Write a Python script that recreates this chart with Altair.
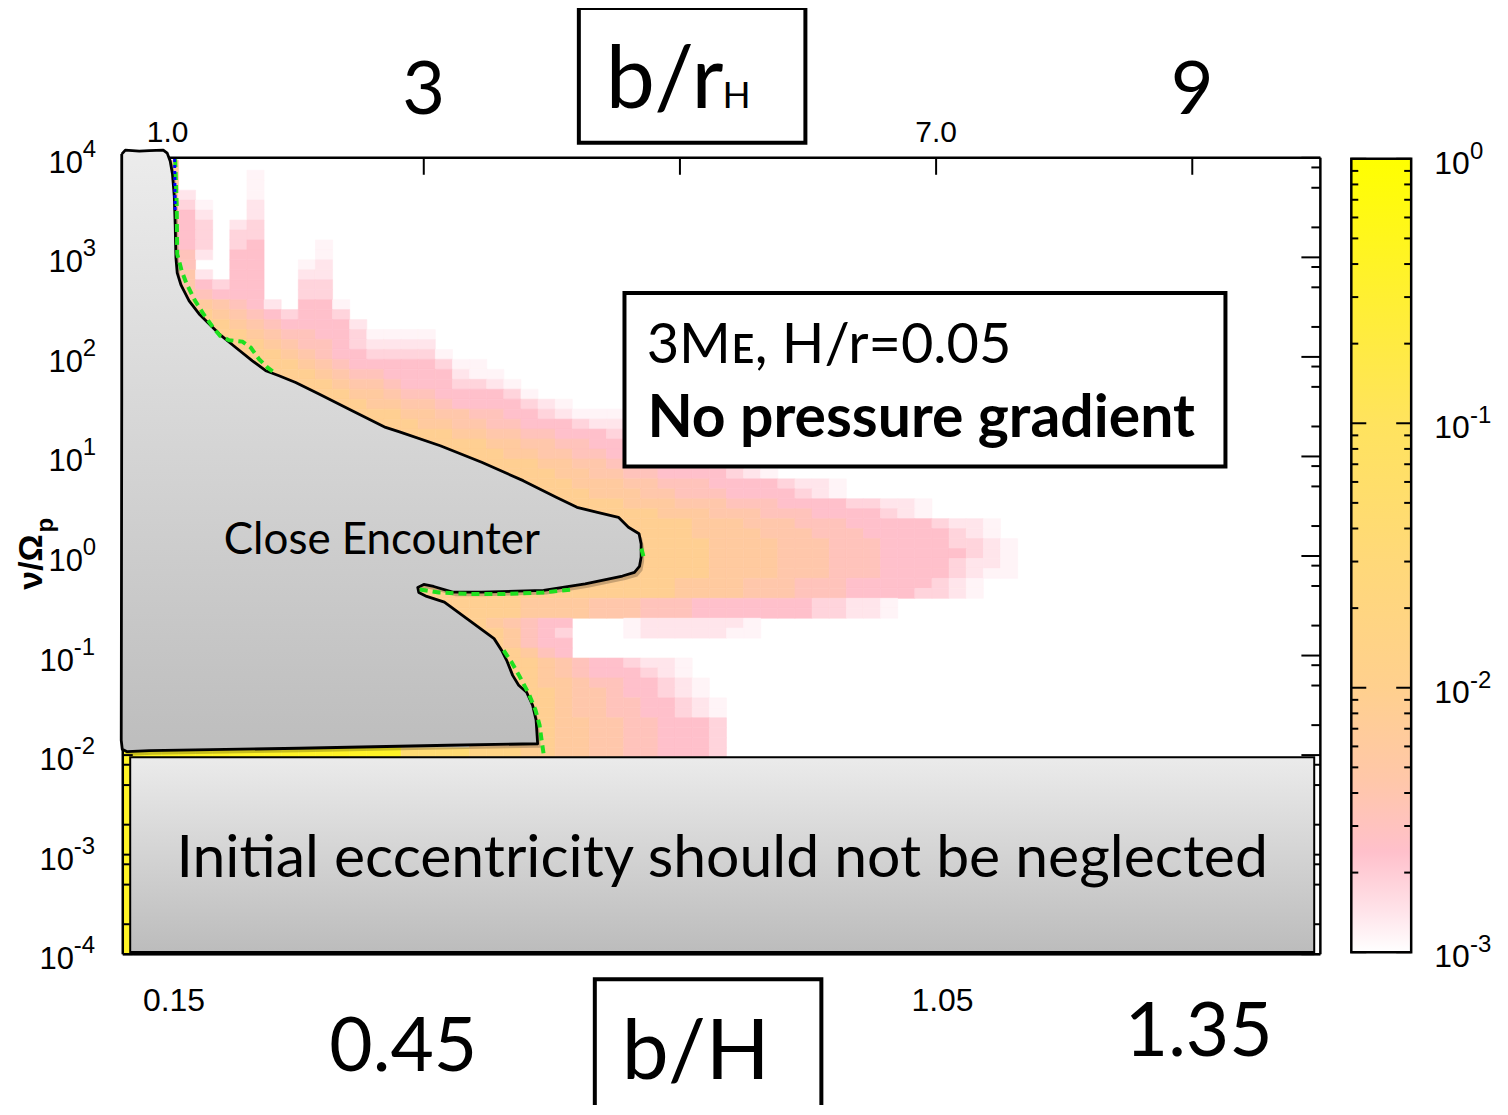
import altair as alt
import pandas as pd

# ---------------- data ----------------
# heat-map grid: columns in b/r_H, rows of 0.1 decade in nu/Omega_p
COL_LEFT0, COL_STEP = 0.951, 0.1337
ROW_TOP0, ROW_STEP = 3.975, 0.1

level_codes = "123456789ab"
level_values = [1.15e-3, 1.4e-3, 1.8e-3, 2.4e-3, 3.2e-3, 4.3e-3, 6e-3, 9e-3, 1.6e-2, 4e-2, 4e-1]

# one entry per row, from the top (nu ~ 10^4) down to nu ~ 10^-2 : (first column, level codes)
heat_rows = [
    (0, "7"),
    (0, "7....1"),
    (0, "7....1"),
    (0, "72...1"),
    (0, "731..2"),
    (0, "742..2"),
    (0, "743.23"),
    (0, "743.33"),
    (0, "743.34...1"),
    (0, "752.44...1"),
    (0, "75..44..12"),
    (0, "762.44..22"),
    (0, "764344..33"),
    (0, "865444..33"),
    (0, "8876542.441"),
    (0, "88876543443"),
    (0, "888876544442"),
    (0, "8888876554431111"),
    (0, "8888887655432222"),
    (2, "888887654433331"),
    (3, "8888876544444311"),
    (4, "8888876554444211"),
    (6, "888876654443321"),
    (7, "888877655444431"),
    (8, "8888776654444321"),
    (9, "888887766554432111"),
    (10, "88888776655444322"),
    (12, "8888877665544432"),
    (14, "88888776655444"),
    (15, "8888877665544"),
    (16, "888888776655444432"),
    (17, "8888887766554444321"),
    (18, "8888887776655544443221"),
    (19, "888888777665554444321"),
    (20, "8888888777666555444433221"),
    (22, "88888887776665554444321"),
    (23, "88888888777666555444443221"),
    (24, "8888888777766655544444321"),
    (24, "88888888777766655544443321"),
    (24, "88888888777766655544444321"),
    (24, "88888888777766655544443221"),
    (23, "888888888777766655544443211"),
    (13, "88888888888888888777766655544444321"),
    (13, "88888888888888888777766655544443321"),
    (13, "888888887777666555444444433221"),
    (14, "88888887777666555444444433221"),
    (15, "888876544...12222221"),
    (16, "88887543...12222211"),
    (16, "88887544"),
    (17, "8888754"),
    (17, "88888765443221"),
    (17, "88888765444321"),
    (17, "888887765544321"),
    (18, "88888766544321"),
    (18, "888887665544321"),
    (18, "888887665544321"),
    (18, "888887766554443"),
    (18, "888887766554443"),
    (18, "888887766554443"),
    (-3, "bbbbbbbbbbbbbbbbbaaaa999887766554443"),
]
# region below nu = 10^-2 (mostly hidden by the grey box)
low_nu_block = {"b0": 0.65, "b1": 4.6, "lg0": -4.0, "lg1": -2.025, "code": "b"}

# colour bar stops (log10 value, colour)
cbar_log = [-3.0, -2.85, -2.62, -2.35, -2.0, -1.5, -1.0, -0.5, 0.0]
cbar_colors = ["#ffffff", "#ffe4ea", "#ffc0cb", "#ffc7a9", "#ffd08e",
               "#ffd978", "#ffe35e", "#fff030", "#ffff00"]

# close-encounter region outline (b/r_H, log10 nu/Omega_p)
shape_b = [0.642, 0.670, 0.779, 0.857, 0.966, 0.997, 1.020, 1.038, 1.052, 1.059,
           1.065, 1.075, 1.104, 1.168, 1.246, 1.402, 1.532, 1.662, 1.766, 1.870,
           2.000, 2.182, 2.441, 2.702, 2.805, 3.129, 3.452, 3.776, 4.034, 4.196,
           4.356, 4.520, 4.598, 4.681, 4.697, 4.697, 4.684, 4.645, 4.551, 4.260,
           3.935, 3.452, 3.226, 3.078, 3.000, 2.953, 2.961, 3.023, 3.161, 3.355,
           3.549, 3.608, 3.647, 3.694, 3.741, 3.803, 3.850, 3.877, 3.889, 3.195,
           2.026, 0.857, 0.685, 0.646, 0.638, 0.642]
shape_lg = [4.037, 4.077, 4.067, 4.072, 4.077, 4.047, 3.967, 3.837, 3.616, 3.335,
            2.994, 2.844, 2.723, 2.563, 2.432, 2.232, 2.094, 1.961, 1.861, 1.811,
            1.743, 1.627, 1.459, 1.292, 1.249, 1.108, 0.941, 0.757, 0.590, 0.489,
            0.439, 0.389, 0.289, 0.223, 0.122, -0.012, -0.105, -0.165, -0.201, -0.279,
            -0.346, -0.363, -0.363, -0.306, -0.286, -0.316, -0.366, -0.406, -0.463, -0.647,
            -0.830, -0.948, -1.048, -1.199, -1.299, -1.369, -1.500, -1.650, -1.886, -1.901,
            -1.931, -1.956, -1.966, -1.941, -1.851, 1.560]

# green dashed boundary pieces and the blue dotted piece
green_b = [
    [1.059, 1.063, 1.071, 1.075, 1.110, 1.149, 1.215, 1.281, 1.356, 1.410, 1.480, 1.584, 1.649, 1.714, 1.779, 1.839],
    [2.969, 3.117, 3.351, 3.663, 3.935, 4.169],
    [3.624, 3.686, 3.748, 3.818, 3.873, 3.904, 3.920, 3.935],
    [4.699, 4.715],
]
green_lg = [
    [3.987, 3.837, 3.536, 3.034, 2.864, 2.733, 2.563, 2.429, 2.295, 2.212, 2.168, 2.154, 2.094, 1.978, 1.894, 1.836],
    [-0.336, -0.366, -0.381, -0.381, -0.366, -0.336],
    [-0.948, -1.068, -1.209, -1.379, -1.550, -1.700, -1.851, -1.981],
    [0.075, -0.005],
]
blue_b = [1.055, 1.059]
blue_lg = [3.987, 3.465]

# axes
top_tick_b = [1, 3, 5, 7, 9]
top_small_labels = [(1, "1.0"), (7, "7.0")]
top_big_labels = [(3, "3"), (9, "9")]
bottom_small_labels = [(1.05, "0.15"), (7.05, "1.05")]
bottom_big_labels = [(2.84, "0.45", 0), (9.05, "1.35", -15)]
y_decades = [-4, -3, -2, -1, 0, 1, 2, 3, 4]
y_minor_mult = [2, 5, 8]
cbar_decades = [-3, -2, -1, 0]
cbar_minor_mult = [2, 3, 4, 5, 6, 7, 8, 9]

# annotation boxes (b/r_H, log10 nu)
info_box = {"b0": 4.567, "b1": 9.259, "lg0": 0.898, "lg1": 2.643}
ecc_box = {"b0": 0.708, "b1": 9.952, "lg0": -3.977, "lg1": -2.021}

# ---------------- build tables ----------------
recs = []
for j, (s, codes) in enumerate(heat_rows):
    top = ROW_TOP0 - j * ROW_STEP
    for k, ch in enumerate(codes):
        if ch == ".":
            continue
        b0 = COL_LEFT0 + (s + k) * COL_STEP
        recs.append({"b0": b0, "b1": b0 + COL_STEP, "n0": 10 ** (top - ROW_STEP),
                     "n1": 10 ** top, "v": level_values[level_codes.index(ch)]})
recs.append({"b0": low_nu_block["b0"], "b1": low_nu_block["b1"], "n0": 10 ** low_nu_block["lg0"],
             "n1": 10 ** low_nu_block["lg1"], "v": level_values[level_codes.index(low_nu_block["code"])]})
heat_df = pd.DataFrame(recs)

shape_df = pd.DataFrame({"b": shape_b + [shape_b[0]],
                         "nu": [10 ** v for v in shape_lg + [shape_lg[0]]],
                         "i": list(range(len(shape_b) + 1))})
grec = []
for p, (bs, ls) in enumerate(zip(green_b, green_lg)):
    for i, (bb, ll) in enumerate(zip(bs, ls)):
        grec.append({"b": bb, "nu": 10 ** ll, "i": i, "seg": p})
green_df = pd.DataFrame(grec)
blue_df = pd.DataFrame({"b": blue_b, "nu": [10 ** v for v in blue_lg], "i": [0, 1]})

W, H = 1200, 798
xs = alt.Scale(domain=[0.65, 10.0], nice=False, zero=False)
ys = alt.Scale(type="log", domain=[1e-4, 1e4], nice=False)
cs = alt.Scale(type="log", domain=[10 ** v for v in cbar_log], range=cbar_colors, interpolate="rgb")
cbs = alt.Scale(type="log", domain=[1e-3, 1.0], range=[796, 1], nice=False)

one = pd.DataFrame({"k": [0]})
SANS = "Liberation Sans"
CAL = "Lato"


def X(f):
    return alt.X(f, scale=xs, axis=None)


def Y(f):
    return alt.Y(f, scale=ys, axis=None)


def ptext(txt, x, y, size, font=CAL, align="left", baseline="alphabetic", weight="normal", angle=0):
    return alt.Chart(one).mark_text(text=txt, fontSize=size, font=font, align=align, baseline=baseline,
                                    fontWeight=weight, angle=angle, color="black").encode(
        x=alt.value(x), y=alt.value(y))


def grad(c0, c1):
    return alt.LinearGradient(gradient="linear", x1=0, x2=0, y1=0, y2=1,
                              stops=[alt.GradientStop(color=c0, offset=0),
                                     alt.GradientStop(color=c1, offset=1)])


layers = []
# heat map
layers.append(alt.Chart(heat_df).mark_rect(clip=True, strokeWidth=0.6).encode(
    x=X("b0:Q"), x2="b1:Q", y=Y("n0:Q"), y2="n1:Q",
    color=alt.Color("v:Q", scale=cs, legend=None),
    stroke=alt.Stroke("v:Q", scale=cs, legend=None)))

# frame
layers.append(alt.Chart(one).mark_rule(color="black", strokeWidth=2.5).encode(
    x=alt.value(0), x2=alt.value(W), y=alt.value(0)))
layers.append(alt.Chart(one).mark_rule(color="black", strokeWidth=2.5).encode(
    x=alt.value(0), x2=alt.value(W), y=alt.value(H)))
layers.append(alt.Chart(one).mark_rule(color="black", strokeWidth=2.5).encode(
    x=alt.value(W), y=alt.value(0), y2=alt.value(H)))
layers.append(alt.Chart(one).mark_rule(color="black", strokeWidth=2.5).encode(
    x=alt.value(0), y=alt.value(0), y2=alt.value(H)))

# ticks
top_df = pd.DataFrame({"b": top_tick_b})
layers.append(alt.Chart(top_df).mark_rule(color="black", strokeWidth=2).encode(
    x=X("b:Q"), y=alt.value(0), y2=alt.value(17)))
maj_df = pd.DataFrame({"nu": [10.0 ** d for d in y_decades]})
min_df = pd.DataFrame({"nu": [m * 10.0 ** d for d in y_decades[:-1] for m in y_minor_mult]})
layers.append(alt.Chart(maj_df).mark_rule(color="black", strokeWidth=2).encode(
    y=Y("nu:Q"), x=alt.value(W), x2=alt.value(W - 19)))
layers.append(alt.Chart(min_df).mark_rule(color="black", strokeWidth=2).encode(
    y=Y("nu:Q"), x=alt.value(W), x2=alt.value(W - 9)))
layers.append(alt.Chart(maj_df).mark_rule(color="black", strokeWidth=2).encode(
    y=Y("nu:Q"), x=alt.value(0), x2=alt.value(10)))
layers.append(alt.Chart(min_df).mark_rule(color="black", strokeWidth=2).encode(
    y=Y("nu:Q"), x=alt.value(0), x2=alt.value(7)))

# close encounter region
layers.append(alt.Chart(shape_df).mark_line(fill="black", fillOpacity=0.22, strokeOpacity=0,
                                            xOffset=3, yOffset=4).encode(
    x=X("b:Q"), y=Y("nu:Q"), order="i:Q"))
layers.append(alt.Chart(shape_df).mark_line(fill=grad("#ececec", "#bdbdbd"), stroke="black",
                                            strokeWidth=2.8, strokeJoin="round").encode(
    x=X("b:Q"), y=Y("nu:Q"), order="i:Q"))
layers.append(alt.Chart(green_df).mark_line(color="#1fe01f", strokeWidth=4, strokeDash=[8, 5]).encode(
    x=X("b:Q"), y=Y("nu:Q"), order="i:Q", detail="seg:N"))
layers.append(alt.Chart(blue_df).mark_line(color="#0000ff", strokeWidth=3, strokeDash=[3, 3]).encode(
    x=X("b:Q"), y=Y("nu:Q"), order="i:Q"))
layers.append(alt.Chart(pd.DataFrame({"b": [2.673], "nu": [10 ** 0.025]})).mark_text(
    text="Close Encounter", font=CAL, fontSize=44, align="center", baseline="alphabetic", color="black").encode(
    x=X("b:Q"), y=Y("nu:Q")))

# eccentricity box
eb = pd.DataFrame({"b0": [ecc_box["b0"]], "b1": [ecc_box["b1"]],
                   "n0": [10 ** ecc_box["lg0"]], "n1": [10 ** ecc_box["lg1"]]})
layers.append(alt.Chart(eb).mark_rect(fill="black", opacity=0.15, xOffset=3, yOffset=4).encode(
    x=X("b0:Q"), x2="b1:Q", y=Y("n0:Q"), y2="n1:Q"))
layers.append(alt.Chart(eb).mark_rect(fill=grad("#ebebeb", "#bcbcbc"), stroke="black", strokeWidth=2).encode(
    x=X("b0:Q"), x2="b1:Q", y=Y("n0:Q"), y2="n1:Q"))
layers.append(alt.Chart(pd.DataFrame({"b": [5.33], "nu": [10 ** -3.225]})).mark_text(
    text="Initial eccentricity should not be neglected", font=CAL, fontSize=59, align="center",
    baseline="alphabetic", color="black").encode(x=X("b:Q"), y=Y("nu:Q")))

# info box
ib = pd.DataFrame({"b0": [info_box["b0"]], "b1": [info_box["b1"]],
                   "n0": [10 ** info_box["lg0"]], "n1": [10 ** info_box["lg1"]]})
layers.append(alt.Chart(ib).mark_rect(fill="white", stroke="black", strokeWidth=4).encode(
    x=X("b0:Q"), x2="b1:Q", y=Y("n0:Q"), y2="n1:Q"))
layers.append(alt.Chart(pd.DataFrame({"b": [4.74], "nu": [10 ** 1.94]})).mark_text(
    text="3M\u1d07, H/r=0.05", font="Lato, DejaVu Sans", fontSize=56, align="left",
    baseline="alphabetic", color="black").encode(x=X("b:Q"), y=Y("nu:Q")))
layers.append(alt.Chart(pd.DataFrame({"b": [4.746], "nu": [10 ** 1.2]})).mark_text(
    text="No pressure gradient", font=CAL, fontSize=59, fontWeight="bold", align="left",
    baseline="alphabetic", color="black").encode(x=X("b:Q"), y=Y("nu:Q")))

# top labels
for b, t in top_small_labels:
    layers.append(alt.Chart(pd.DataFrame({"b": [b]})).mark_text(
        text=t, font=SANS, fontSize=30, align="center", baseline="alphabetic", color="black").encode(
        x=X("b:Q"), y=alt.value(-16)))
for b, t in top_big_labels:
    layers.append(alt.Chart(pd.DataFrame({"b": [b]})).mark_text(
        text=t, font=CAL, fontSize=74, align="center", baseline="alphabetic", color="black").encode(
        x=X("b:Q"), y=alt.value(-44)))
# b/r_H title box
layers.append(alt.Chart(one).mark_rect(fill="white", stroke="black", strokeWidth=4).encode(
    x=alt.value(457), x2=alt.value(684), y=alt.value(-150), y2=alt.value(-15)))
layers.append(ptext("b/r", 484, -50, 88))
layers.append(ptext("H", 601, -50, 37))

# bottom labels
for b, t in bottom_small_labels:
    layers.append(alt.Chart(pd.DataFrame({"b": [b]})).mark_text(
        text=t, font=SANS, fontSize=32, align="center", baseline="alphabetic", color="black").encode(
        x=X("b:Q"), y=alt.value(855)))
for b, t, d in bottom_big_labels:
    layers.append(alt.Chart(pd.DataFrame({"b": [b]})).mark_text(
        text=t, font=CAL, fontSize=75, align="center", baseline="alphabetic", color="black", dy=d).encode(
        x=X("b:Q"), y=alt.value(915)))
layers.append(alt.Chart(one).mark_rect(fill="white", stroke="black", strokeWidth=4).encode(
    x=alt.value(473), x2=alt.value(700), y=alt.value(823), y2=alt.value(975)))
layers.append(ptext("b/H", 500, 923, 84))

# y axis labels
ylab = pd.DataFrame({"nu": [10.0 ** d for d in y_decades], "e": [str(d) for d in y_decades],
                     "neg": [d < 0 for d in y_decades]})
layers.append(alt.Chart(ylab).transform_filter("!datum.neg").mark_text(
    text="10", font=SANS, fontSize=31, align="right", baseline="middle", dy=6, color="black").encode(
    y=Y("nu:Q"), x=alt.value(-40)))
layers.append(alt.Chart(ylab).transform_filter("datum.neg").mark_text(
    text="10", font=SANS, fontSize=31, align="right", baseline="middle", dy=6, color="black").encode(
    y=Y("nu:Q"), x=alt.value(-49)))
layers.append(alt.Chart(ylab).transform_filter("!datum.neg").mark_text(
    font=SANS, fontSize=24, align="left", baseline="middle", dy=-8, color="black").encode(
    y=Y("nu:Q"), x=alt.value(-40), text="e:N"))
layers.append(alt.Chart(ylab).transform_filter("datum.neg").mark_text(
    font=SANS, fontSize=24, align="left", baseline="middle", dy=-8, color="black").encode(
    y=Y("nu:Q"), x=alt.value(-49), text="e:N"))
layers.append(ptext("\u03bd/\u03a9", -91, 405, 34, font=SANS, align="center", baseline="middle",
                    weight="bold", angle=270))
layers.append(ptext("p", -77, 368, 24, font=SANS, align="center", baseline="middle",
                    weight="bold", angle=270))

main = alt.layer(*layers)

# ---------------- colour bar ----------------
cb_layers = []
cb_df = pd.DataFrame({"lo": [1e-3], "hi": [1.0]})
cb_grad = alt.LinearGradient(gradient="linear", x1=0, x2=0, y1=1, y2=0,
                             stops=[alt.GradientStop(color=c, offset=(v + 3) / 3)
                                    for v, c in zip(cbar_log, cbar_colors)])
cb_layers.append(alt.Chart(cb_df).mark_rect(fill=cb_grad, stroke="black", strokeWidth=2.5).encode(
    x=alt.value(1231), x2=alt.value(1291), y=alt.Y("lo:Q", scale=cbs, axis=None), y2="hi:Q"))
cmaj = pd.DataFrame({"c": [10.0 ** d for d in cbar_decades]})
cmin = pd.DataFrame({"c": [m * 10.0 ** d for d in cbar_decades[:-1] for m in cbar_minor_mult]})
for x0, dx, df in [(1231, 15, cmaj), (1291, -15, cmaj), (1231, 7, cmin), (1291, -7, cmin)]:
    cb_layers.append(alt.Chart(df).mark_rule(color="black", strokeWidth=2).encode(
        y=alt.Y("c:Q", scale=cbs, axis=None), x=alt.value(x0), x2=alt.value(x0 + dx)))
clab = pd.DataFrame({"c": [10.0 ** d for d in cbar_decades], "e": [str(d) for d in cbar_decades]})
cb_layers.append(alt.Chart(clab).mark_text(text="10", font=SANS, fontSize=32, align="left",
                                           baseline="middle", dy=5, color="black").encode(
    y=alt.Y("c:Q", scale=cbs, axis=None), x=alt.value(1314)))
cb_layers.append(alt.Chart(clab).mark_text(font=SANS, fontSize=24, align="left",
                                           baseline="middle", dy=-7, color="black").encode(
    y=alt.Y("c:Q", scale=cbs, axis=None), x=alt.value(1350), text="e:N"))
cbar = alt.layer(*cb_layers)

chart = alt.layer(main, cbar).resolve_scale(y="independent").properties(
    width=W, height=H,
    padding={"left": 115, "top": 149, "right": 180, "bottom": 150},
    autosize=alt.AutoSizeParams(type="none"),
    background="white",
).configure_view(stroke=None)

chart.save("out.html", embed_options={"renderer": "svg", "actions": False})
